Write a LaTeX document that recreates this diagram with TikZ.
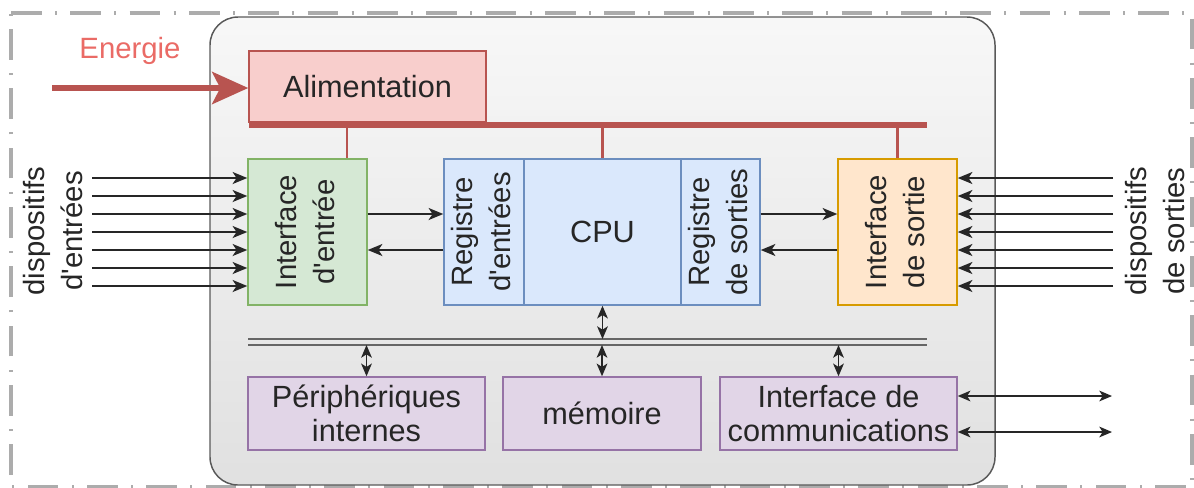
\documentclass[tikz,border=0pt]{standalone}
\usepackage{fontspec}
\setmainfont{Liberation Sans}[Ligatures=TeXOff]
\usetikzlibrary{arrows.meta}
\definecolor{redfill}{HTML}{F8CECC}
\definecolor{redline}{HTML}{B85450}
\definecolor{energ}{HTML}{EA6B66}
\definecolor{greenfill}{HTML}{D5E8D4}
\definecolor{greenline}{HTML}{82B366}
\definecolor{bluefill}{HTML}{DAE8FC}
\definecolor{blueline}{HTML}{6C8EBF}
\definecolor{orfill}{HTML}{FFE6CC}
\definecolor{orline}{HTML}{D79B00}
\definecolor{purfill}{HTML}{E1D5E7}
\definecolor{purline}{HTML}{9673A6}
\definecolor{txt}{HTML}{262626}
\newcommand{\vlab}[1]{\rotatebox{90}{\fontsize{22}{28.5}\selectfont\begin{tabular}{@{}c@{}}#1\end{tabular}}}
\tikzset{
  lbl/.style={font=\fontsize{23}{25.5}\selectfont, text=txt},
  span/.style n args={4}{minimum width={(#3-#1)*0.75pt}, minimum height={(#4-#2)*0.75pt},
     at={({(#1+#3)/2},{(#2+#4)/2})}},
  box/.style={draw, line width=1.1pt, inner sep=0pt, lbl},
  redbox/.style={box, fill=redfill, draw=redline},
  greenbox/.style={box, fill=greenfill, draw=greenline},
  bluebox/.style={box, fill=bluefill, draw=blueline},
  orbox/.style={box, fill=orfill, draw=orline},
  purbox/.style={box, fill=purfill, draw=purline, align=center},
  arr/.style={draw=txt, line width=1.4pt, -{Stealth[length=11pt,width=9pt,inset=3pt]}},
  darr/.style={draw=txt, line width=1.4pt, {Stealth[length=9.5pt,width=8pt,inset=2.5pt]}-{Stealth[length=9.5pt,width=8pt,inset=2.5pt]}},
  busline/.style={draw=gray!80!black, line width=1.2pt},
  feed/.style={draw=redline, line width=2pt},
}
\begin{document}
\begin{tikzpicture}[x=0.75pt,y=-0.75pt]
\useasboundingbox (0,0) rectangle (1194,487);
% outer dash-dot frame
\draw[gray!65, line width=2.4pt, dash pattern=on 23pt off 10pt on 1.5pt off 10pt]
  (11,13) -- (1192,13) -- (1192,487) -- (11,487) -- cycle;
% main board
\node[span={210}{17}{995}{485}, inner sep=0pt, rounded corners=21pt, draw=gray!70!black, line width=1.1pt,
  top color=white!97!black, bottom color=white!88!black] (board) {};
% boxes
\node[redbox, span={249}{51}{486}{122}] (alim) {Alimentation};
\node[greenbox, span={248}{159}{367}{305}] (ie) {\vlab{Interface\\d'entrée}};
\node[bluebox, span={444}{159}{524}{305}] (ri) {\vlab{Registre\\d'entrées}};
\node[bluebox, span={524}{159}{681}{305}] (cpu) {CPU};
\node[bluebox, span={681}{159}{760}{305}] (ro) {\vlab{Registre\\de sorties}};
\node[orbox, span={838}{159}{957}{305}] (os) {\vlab{Interface\\de sortie}};
\node[purbox, span={248}{377}{485}{450}] (pi) {Périphériques\\internes};
\node[purbox, span={503}{377}{701}{450}] (mem) {mémoire};
\node[purbox, span={720}{377}{957}{450}] (com) {Interface de\\communications};
% energy
\node[lbl, font=\fontsize{22}{25}\selectfont, text=energ] (energie) at (130,51) {Energie};
\coordinate (en) at (52,88);
\draw[redline, line width=4.5pt, -{Stealth[length=27pt,width=24pt,inset=6pt]}] (en) -- (en -| alim.west);
% red power bus
\coordinate (busl) at (249,125);
\coordinate (busr) at (927,125);
\draw[redline, line width=4.5pt] (busl) -- (busr);
\coordinate (t1) at (347,125);
\draw[feed] (t1) -- (t1 |- ie.north);
\draw[feed] (cpu.north |- busl) -- (cpu.north);
\draw[feed] (os.north |- busl) -- (os.north);
% input / output device arrows
\foreach \d [count=\i] in {-54,-36,-18,0,18,36,54}{
  \coordinate (in\i) at (92,232+\d);
  \draw[arr] (in\i) -- (in\i -| ie.west);
  \coordinate (out\i) at (1113,232+\d);
  \draw[arr] (out\i) -- (out\i -| os.east);
}
% interface <-> register
\draw[arr] ([yshift=13.5pt]ie.east) -- ([yshift=13.5pt]ri.west);
\draw[arr] ([yshift=-13.5pt]ri.west) -- ([yshift=-13.5pt]ie.east);
\draw[arr] ([yshift=13.5pt]ro.east) -- ([yshift=13.5pt]os.west);
\draw[arr] ([yshift=-13.5pt]os.west) -- ([yshift=-13.5pt]ro.east);
% data bus
\coordinate (b1l) at (248,339); \coordinate (b1r) at (927,339);
\coordinate (b2l) at (248,345); \coordinate (b2r) at (927,345);
\draw[busline] (b1l) -- (b1r);
\draw[busline] (b2l) -- (b2r);
\draw[darr] (cpu.south) -- (cpu.south |- b1l);
\draw[darr] (pi.north |- b2l) -- (pi.north);
\draw[darr] (mem.north |- b2l) -- (mem.north);
\draw[darr] (com.north |- b2l) -- (com.north);
% communications
\coordinate (c1) at (1112,396);
\coordinate (c2) at (1112,432);
\draw[darr] (c1 -| com.east) -- (c1);
\draw[darr] (c2 -| com.east) -- (c2);
% side labels
\node[lbl, rotate=90, align=center, font=\fontsize{22}{29}\selectfont] (din) at (53,231) {dispositifs\\d'entrées};
\node[lbl, rotate=90, align=center, font=\fontsize{22}{29}\selectfont] (dout) at (1155,231) {dispositifs\\de sorties};
\end{tikzpicture}
\end{document}
